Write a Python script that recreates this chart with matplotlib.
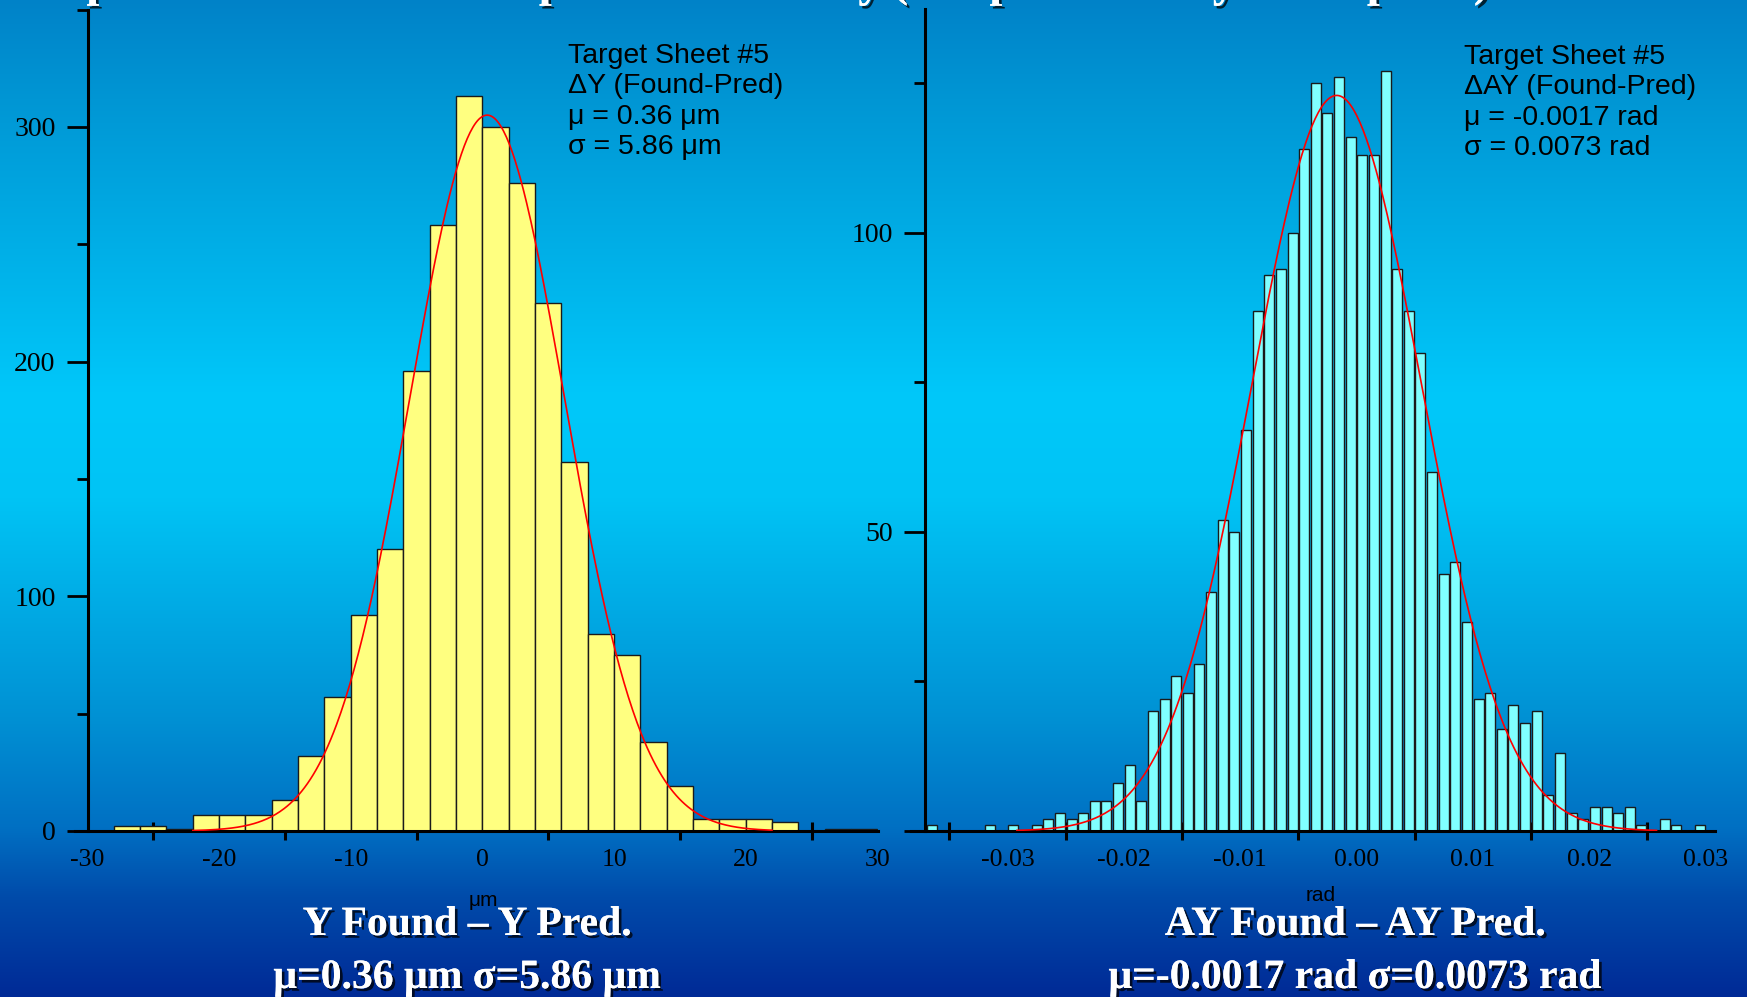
import numpy as np
import matplotlib
matplotlib.use('Agg')
import matplotlib.pyplot as plt
import matplotlib.patheffects as pe
from matplotlib.ticker import FixedLocator

plt.rcParams['axes.unicode_minus'] = False

# Y found - Y pred, 2 um bins starting at -30 um
dy_lo = np.arange(-30, 30, 2)
dy_counts = [0, 2, 2, 1, 7, 7, 7, 13, 32, 57, 92, 120, 196, 258, 313,
             300, 276, 225, 157, 84, 75, 38, 19, 5, 5, 5, 4, 0, 1, 1]
dy_fit_mu, dy_fit_sigma, dy_fit_peak = 0.36, 5.86, 305.0
dy_ticks = [-30, -20, -10, 0, 10, 20, 30]

# AY found - AY pred, 0.001 rad bins starting at -0.037 rad
day_lo = np.arange(-37, 30) * 0.001
day_counts = [1, 0, 0, 0, 0, 1, 0, 1, 0, 1,
              2, 3, 2, 3, 5, 5, 8, 11, 5, 20,
              22, 26, 23, 28, 40, 52, 50, 67, 87, 93,
              94, 100, 114, 125, 120, 126, 116, 113, 113, 127,
              94, 87, 80, 60, 43, 45, 35, 22, 23, 17,
              21, 18, 20, 6, 13, 3, 2, 4, 4, 3,
              4, 1, 0, 2, 1, 0, 1]
day_fit_mu, day_fit_sigma, day_fit_peak = -0.0017, 0.0073, 123.0
day_ticks = [-0.03, -0.02, -0.01, 0.0, 0.01, 0.02, 0.03]

W, H = 1747, 997
fig = plt.figure(figsize=(W / 100, H / 100), dpi=100)

# slide background gradient
stops = [0.0, 0.10, 0.40, 0.50, 0.72, 0.83, 0.90, 1.0]
g_col = [130, 150, 200, 196, 145, 112, 75, 42]
b_col = [200, 212, 250, 245, 212, 195, 170, 150]
t = np.linspace(0, 1, H)
grad = np.zeros((H, 1, 3))
grad[:, 0, 1] = np.interp(t, stops, g_col) / 255
grad[:, 0, 2] = np.interp(t, stops, b_col) / 255
bg = fig.add_axes([0, 0, 1, 1], zorder=-10)
bg.imshow(grad, aspect='auto', extent=[0, 1, 0, 1])
bg.axis('off')

shadow = [pe.withSimplePatchShadow(offset=(2, -2), shadow_rgbFace='k', alpha=0.75), pe.Normal()]
serif = 'Liberation Serif'
sans = 'Liberation Sans'


def style_axes(ax, yspine_at, minor_x, ymaj, ymin):
    ax.set_facecolor('none')
    for s in ['top', 'right']:
        ax.spines[s].set_visible(False)
    ax.spines['left'].set_position(('data', yspine_at))
    ax.spines['left'].set_linewidth(2.2)
    ax.spines['bottom'].set_linewidth(2.2)
    ax.xaxis.set_minor_locator(FixedLocator(minor_x))
    ax.set_yticks(ymaj)
    ax.yaxis.set_minor_locator(FixedLocator(ymin))
    ax.tick_params(axis='x', which='major', length=0, pad=13, labelsize=18.5)
    ax.tick_params(axis='x', which='minor', length=13, width=2.2, direction='inout')
    ax.tick_params(axis='y', which='major', length=15, width=2, direction='out', pad=8, labelsize=20)
    ax.tick_params(axis='y', which='minor', length=8, width=2, direction='out')
    for lab in ax.get_xticklabels() + ax.get_yticklabels():
        lab.set_fontfamily(serif)


# left panel
ax1 = fig.add_axes([75 / W, 1 - 831 / H, 803 / W, 821.5 / H])
ax1.bar(dy_lo, dy_counts, width=2, align='edge', color='#FFFF80',
        edgecolor='#1a1a1a', linewidth=1.0, zorder=2)
xf = np.linspace(-22, 22, 400)
ax1.plot(xf, dy_fit_peak * np.exp(-0.5 * ((xf - dy_fit_mu) / dy_fit_sigma) ** 2),
         color='red', lw=1.2, zorder=3)
ax1.set_xlim(-30.95, 30.05)
ax1.set_ylim(0, 350)
ax1.set_xticks(dy_ticks, [str(v) for v in dy_ticks])
style_axes(ax1, -30, [-25, -15, -5, 5, 15, 25], [0, 100, 200, 300], [50, 150, 250, 350])

# right panel
ax2 = fig.add_axes([910.8 / W, 1 - 831 / H, 803.9 / W, 821.7 / H])
ax2.bar(day_lo + 0.0005, day_counts, width=0.00086, align='center', color='#80FFFF',
        edgecolor='#1a1a1a', linewidth=1.0, zorder=2)
xf2 = np.linspace(-0.0292, 0.0258, 400)
ax2.plot(xf2, day_fit_peak * np.exp(-0.5 * ((xf2 - day_fit_mu) / day_fit_sigma) ** 2),
         color='red', lw=1.2, zorder=3)
ax2.set_xlim(-0.03832, 0.0308)
ax2.set_ylim(0, 137.4)
ax2.set_xticks(day_ticks, ['%.2f' % v for v in day_ticks])
style_axes(ax2, -0.0371, [-0.035, -0.025, -0.015, -0.005, 0.005, 0.015, 0.025],
           [0, 50, 100], [25, 75, 125])
ax2.set_yticklabels(['', '50', '100'], fontfamily=serif)

# fit boxes
left_box = ['Target Sheet #5', '\u0394Y (Found-Pred)', '\u03bc = 0.36 \u03bcm', '\u03c3 = 5.86 \u03bcm']
right_box = ['Target Sheet #5', '\u0394AY (Found-Pred)', '\u03bc = -0.0017 rad', '\u03c3 = 0.0073 rad']
for i, line in enumerate(left_box):
    fig.text(568 / W, 1 - (63 + 30.4 * i) / H, line, fontsize=20.5, family=sans, va='baseline')
for i, line in enumerate(right_box):
    fig.text(1464 / W, 1 - (64 + 30.4 * i) / H, line, fontsize=20.5, family=sans, va='baseline')

# axis units
fig.text(483 / W, 1 - 900 / H, '\u03bcm', fontsize=15, family=sans, ha='center', va='center')
fig.text(1321 / W, 1 - 895 / H, 'rad', fontsize=15, family=sans, ha='center', va='center')

# slide captions
caps = [(467, 'Y Found \u2013 Y Pred.', '\u03bc=0.36 \u03bcm \u03c3=5.86 \u03bcm'),
        (1355, 'AY Found \u2013 AY Pred.', '\u03bc=-0.0017 rad \u03c3=0.0073 rad')]
for cx, l1, l2 in caps:
    fig.text(cx / W, 1 - 935 / H, l1, fontsize=30, family=serif, weight='bold', color='white',
             ha='center', va='baseline', path_effects=shadow)
    fig.text(cx / W, 1 - 988 / H, l2, fontsize=30, family=serif, weight='bold', color='white',
             ha='center', va='baseline', path_effects=shadow)

# slide title, almost entirely above the visible area (only descenders show)
fig.text(61 / W, 1 + 4 / H, 'Spatial resolution of the position accuracy (compared with y and x plane)',
         fontsize=33, family=serif, weight='bold', color='white', va='baseline', path_effects=shadow)

fig.savefig('out.png', dpi=100)
